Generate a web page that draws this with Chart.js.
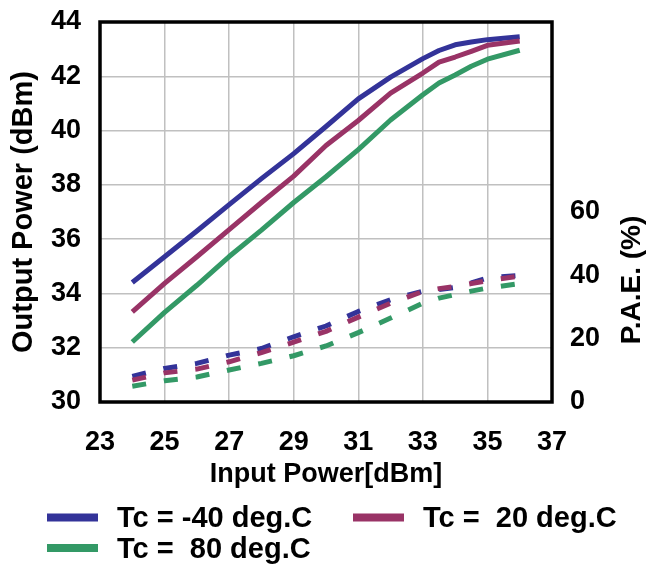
<!DOCTYPE html>
<html>
<head>
<meta charset="utf-8">
<script src="https://cdn.jsdelivr.net/npm/chart.js@4"></script>
<style>
  html, body { margin: 0; padding: 0; background: #fff; }
  #wrap { width: 648px; height: 566px; }
</style>
</head>
<body>
<div id="wrap"><canvas id="pout-chart"></canvas></div>
<script>
// input drive levels (dBm)
var inputPower = [24, 25, 26, 27, 28, 29, 30, 31, 32, 33, 33.5, 34, 34.5, 35, 36];

// output power (dBm) per case temperature
var poutM40 = [34.4, 35.35, 36.3, 37.27, 38.23, 39.15, 40.15, 41.17, 41.97, 42.65, 42.95, 43.16, 43.26, 43.35, 43.46];
var pout20 = [33.32, 34.37, 35.35, 36.35, 37.35, 38.32, 39.45, 40.37, 41.38, 42.12, 42.52, 42.71, 42.92, 43.14, 43.3];
var pout80 = [32.21, 33.3, 34.3, 35.36, 36.33, 37.35, 38.3, 39.3, 40.39, 41.32, 41.75, 42.05, 42.37, 42.63, 42.96];

// power added efficiency (%) per case temperature
var paeM40 = [8.1, 10.6, 12.2, 14.8, 16.9, 20.6, 24.0, 28.6, 32.3, 35.0, 35.5, 36.2, 37.6, 39.2, 40.0];
var pae20 = [6.9, 9.2, 10.4, 12.7, 15.6, 18.9, 22.3, 26.8, 31.2, 34.9, 35.8, 36.5, 37.4, 38.3, 39.8];
var pae80 = [5.0, 6.7, 7.9, 10.1, 12.2, 14.6, 17.7, 21.9, 26.5, 31.2, 32.8, 33.9, 35.0, 36.0, 37.4];

var tempLabels = ['Tc = -40 deg.C', 'Tc =  20 deg.C', 'Tc =  80 deg.C'];
var tempColors = ['#333399', '#993366', '#339966'];

var FONT = "'Liberation Sans', Arial, sans-serif";

function pairs(ys) {
    return inputPower.map(function (x, i) { return { x: x, y: ys[i] }; });
}

function series(label, color, ys, axis, dashed, order) {
    return {
        label: label,
        data: pairs(ys),
        yAxisID: axis,
        borderColor: color,
        backgroundColor: color,
        borderWidth: 5,
        borderDash: dashed ? [14, 18] : [],
        borderCapStyle: 'butt',
        borderJoinStyle: 'round',
        pointRadius: 0,
        tension: 0,
        fill: false,
        order: order
    };
}

// y axes: fixed width, and don't let the label padding push the plot down
function fixY(width) {
    return function (s) {
        s.width = width;
        s.paddingTop = 16;
        s.paddingBottom = 16;
    };
}

// black frame round the plot area
var frame = {
    id: 'frame',
    beforeDatasetsDraw: function (chart) {
        var a = chart.chartArea, ctx = chart.ctx;
        ctx.save();
        ctx.strokeStyle = '#000';
        ctx.lineWidth = 3.5;
        ctx.strokeRect(a.left, a.top, a.right - a.left, a.bottom - a.top);
        ctx.restore();
    }
};

// legend rows under the axis and the right-hand axis title
var keyPos = [[47, 517.5], [353, 517.5], [47, 548]];
var extras = {
    id: 'extras',
    afterDraw: function (chart) {
        var ctx = chart.ctx;
        ctx.save();
        ctx.font = 'bold 29px ' + FONT;
        ctx.textBaseline = 'middle';
        ctx.textAlign = 'left';
        for (var i = 0; i < 3; i++) {
            var ds = chart.data.datasets[i];
            var p = keyPos[i];
            ctx.fillStyle = ds.borderColor;
            ctx.fillRect(p[0], p[1] - 4, 51, 8);
            ctx.fillStyle = '#000';
            ctx.fillText(ds.label, p[0] + 70, p[1] + 1.5);
        }
        ctx.translate(632, 280);
        ctx.rotate(-Math.PI / 2);
        ctx.textAlign = 'center';
        ctx.font = 'bold 28px ' + FONT;
        ctx.fillText('P.A.E. (%)', 0, 0);
        ctx.restore();
    }
};

var tickFont = { family: FONT, size: 27, weight: 'bold' };
var gridStyle = { color: '#c0c0c0', lineWidth: 1.5, drawTicks: false };

new Chart(document.getElementById('pout-chart'), {
    type: 'line',
    data: {
        datasets: [
            series(tempLabels[0], tempColors[0], poutM40, 'y', false, 6),
            series(tempLabels[1], tempColors[1], pout20, 'y', false, 5),
            series(tempLabels[2], tempColors[2], pout80, 'y', false, 4),
            series(tempLabels[0], tempColors[0], paeM40, 'y2', true, 3),
            series(tempLabels[1], tempColors[1], pae20, 'y2', true, 2),
            series(tempLabels[2], tempColors[2], pae80, 'y2', true, 1)
        ]
    },
    options: {
        responsive: true,
        maintainAspectRatio: false,
        animation: false,
        layout: { padding: { top: 22, right: 0, bottom: 74, left: 0 } },
        plugins: {
            legend: { display: false },
            tooltip: { enabled: false }
        },
        scales: {
            x: {
                type: 'linear',
                min: 23,
                max: 37,
                ticks: { stepSize: 2, color: '#000', font: tickFont, padding: 24 },
                grid: gridStyle,
                border: { display: false },
                title: {
                    display: true,
                    text: 'Input Power[dBm]',
                    color: '#000',
                    font: { family: FONT, size: 27, weight: 'bold' },
                    padding: { top: 0, bottom: 1 }
                },
                afterFit: function (s) { s.height = 90; }
            },
            y: {
                position: 'left',
                min: 30,
                max: 44,
                ticks: { stepSize: 2, color: '#000', font: tickFont, padding: 19 },
                grid: gridStyle,
                border: { display: false },
                title: {
                    display: true,
                    text: 'Output Power (dBm)',
                    color: '#000',
                    font: { family: FONT, size: 29, weight: 'bold' },
                    padding: { top: 7, bottom: 0 }
                },
                afterFit: fixY(100)
            },
            y2: {
                position: 'right',
                min: 0,
                max: 120,
                ticks: {
                    stepSize: 20,
                    color: '#000',
                    font: tickFont,
                    padding: 18,
                    callback: function (v) { return v <= 60 ? v : null; }
                },
                grid: { display: false, drawTicks: false },
                border: { display: false },
                afterFit: fixY(96)
            }
        }
    },
    plugins: [frame, extras]
});
</script>
</body>
</html>
